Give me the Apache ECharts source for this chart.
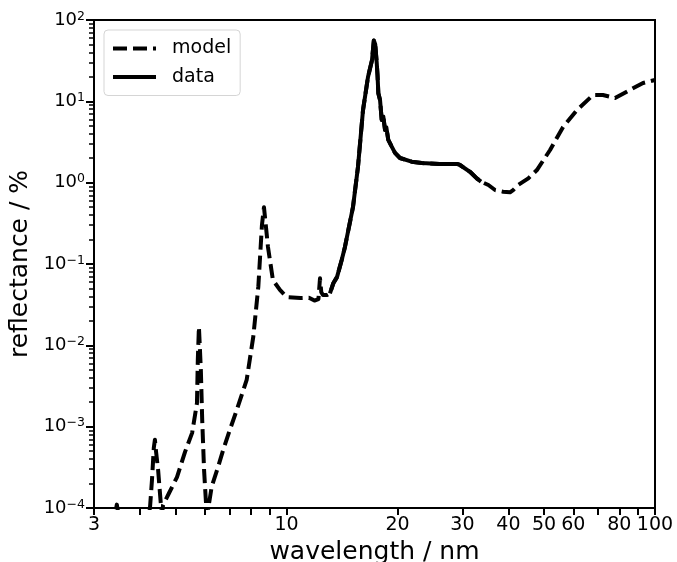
<!DOCTYPE html>
<html>
<head>
<meta charset="utf-8">
<script src="https://cdn.jsdelivr.net/npm/echarts@6/dist/echarts.min.js"></script>
<style>html,body{margin:0;padding:0;background:#fff}#c{width:677px;height:562px}</style>
</head>
<body>
<div id="c"></div>
<script>
// wavelength (nm) and reflectance (%) for the model curve
const modelX = [3.00,3.20,3.40,3.46,3.52,3.80,4.10,4.24,4.26,4.31,4.36,4.39,4.42,4.48,4.56,4.59,4.62,4.80,5.04,5.30,5.54,5.71,5.74,5.78,5.80,5.85,5.90,5.97,6.07,6.12,6.26,6.50,6.73,7.00,7.32,7.79,8.12,8.38,8.57,8.68,8.78,8.90,9.18,9.59,10.0,10.9,11.5,11.9,12.2,12.32,12.42,12.55,12.87,13.11,13.39,13.70,14.11,14.40,15.14,15.62,16.12,16.63,17.05,17.25,17.40,17.56,17.65,17.74,17.93,18.12,18.30,18.50,18.65,18.88,19.05,19.29,19.69,20.31,21.85,23.26,26.0,29.0,29.55,31.46,32.82,33.7,35.3,36.8,38.7,40.4,41.2,42.5,45.3,47.8,51.9,56.3,61.4,67.9,72.2,77.9,85.5,92.8,100];
const modelY = [2.0e-5,4.0e-5,7.0e-5,1.1e-4,7.0e-5,3.0e-5,4.0e-5,9.0e-5,1.05e-4,2.2e-4,5.5e-4,6.9e-4,5.0e-4,2.9e-4,1.06e-4,8.5e-5,1.09e-4,1.54e-4,2.4e-4,4.9e-4,8.4e-4,1.95e-3,6.6e-3,1.68e-2,1.2e-2,5.0e-3,1.21e-3,2.9e-4,8.0e-5,9.5e-5,1.83e-4,3.1e-4,5.2e-4,8.9e-4,1.6e-3,3.75e-3,1.28e-2,5.3e-2,0.30,0.50,0.30,0.162,0.0635,0.048,0.0393,0.0382,0.0385,0.0355,0.037,0.0667,0.045,0.0416,0.0416,0.0436,0.058,0.069,0.112,0.162,0.50,1.56,7.8,19.9,32,56,50,30,21,12.6,10.4,5.9,6.5,4.44,4.8,3.35,3.5,2.77,2.32,2.01,1.81,1.745,1.70,1.70,1.65,1.36,1.13,1.03,0.936,0.812,0.775,0.76,0.81,0.936,1.13,1.43,2.52,4.84,7.82,11.96,11.96,11.0,13.8,16.8,18.3];
// measured data curve
const dataX = [13.11,13.39,13.70,14.11,14.40,15.14,15.62,16.12,16.63,17.05,17.25,17.40,17.56,17.65,17.74,17.93,18.12,18.30,18.50,18.65,18.88,19.05,19.29,19.69,20.31,21.85,23.26,26.0,29.0,29.55,31.46,32.82,33.7];
const dataY = [0.0436,0.058,0.069,0.112,0.162,0.50,1.56,7.8,19.9,32,56,50,30,21,12.6,10.4,5.9,6.5,4.44,4.8,3.35,3.5,2.77,2.32,2.01,1.81,1.745,1.70,1.70,1.65,1.36,1.13,1.03];
// ticks
const xTicks = [3,4,5,6,7,8,9,10,20,30,40,50,60,70,80,90,100];
const xLabels = [3,10,20,30,40,50,60,80,100];
const yMajor = [1e-4,1e-3,1e-2,1e-1,1,10,100];
const yMinor = [];
for (let e = -4; e <= 1; e++) for (let m = 2; m <= 9; m++) yMinor.push(m * Math.pow(10, e));

const FF = 'DejaVu Sans';
const chart = echarts.init(document.getElementById('c'), null, {renderer: 'canvas'});
const toPairs = (xs, ys) => xs.map((x, i) => [x, ys[i]]);
chart.setOption({
  animation: false,
  backgroundColor: '#fff',
  grid: {left: 94, right: 22, top: 20, bottom: 54, show: true, borderColor: '#000', borderWidth: 2, containLabel: false, outerBoundsMode: 'none'},
  legend: {
    left: 104, top: 30, orient: 'vertical',
    backgroundColor: '#fff', borderColor: '#d5d5d5', borderWidth: 1, borderRadius: 4,
    padding: [9, 9, 9, 7], itemWidth: 43, itemHeight: 14, itemGap: 9.5,
    itemStyle: {opacity: 0},
    lineStyle: {width: 4},
    textStyle: {fontSize: 19, color: '#000', fontFamily: FF, padding: [0, 0, 0, 11], lineHeight: 19},
    data: ['model', 'data']
  },
  xAxis: {
    type: 'log', logBase: 10, min: 3, max: 100,
    axisLine: {show: true, lineStyle: {color: '#000', width: 2}},
    axisTick: {show: true, length: 7, customValues: xTicks, lineStyle: {color: '#000', width: 2}},
    axisLabel: {customValues: xLabels, formatter: v => String(Math.round(v)), fontSize: 19, color: '#000', fontFamily: FF, margin: 8},
    splitLine: {show: false},
    name: 'wavelength / nm', nameLocation: 'middle', nameGap: 23,
    nameTextStyle: {fontSize: 25, color: '#000', fontFamily: FF}
  },
  yAxis: [{
    type: 'log', logBase: 10, min: 1e-4, max: 100, position: 'left',
    axisLine: {show: true, lineStyle: {color: '#000', width: 2}},
    axisTick: {show: true, length: 8, customValues: yMajor, lineStyle: {color: '#000', width: 2}},
    axisLabel: {
      customValues: yMajor, margin: 9,
      formatter: v => { const e = Math.round(Math.log10(v)); return '{b|10}{s|' + (e < 0 ? '\u2212' + (-e) : e) + '}'; },
      rich: {
        b: {fontSize: 18, color: '#000', fontFamily: FF},
        s: {fontSize: 12.5, color: '#000', fontFamily: FF, padding: [0, 0, 7, 0]}
      }
    },
    splitLine: {show: false},
    name: 'reflectance / %', nameLocation: 'middle', nameGap: 58,
    nameTextStyle: {fontSize: 25, color: '#000', fontFamily: FF}
  }, {
    type: 'log', logBase: 10, min: 1e-4, max: 100, position: 'left', offset: 0,
    axisLine: {show: false},
    axisTick: {show: true, length: 5, customValues: yMinor, lineStyle: {color: '#000', width: 1.5}},
    axisLabel: {show: false},
    splitLine: {show: false}
  }],
  series: [{
    name: 'model', type: 'line', data: toPairs(modelX, modelY),
    symbol: 'none', showSymbol: false, clip: true, z: 2,
    lineStyle: {color: '#000', width: 4, type: [14, 6], cap: 'butt', join: 'round'},
    itemStyle: {color: '#000'}
  }, {
    name: 'data', type: 'line', data: toPairs(dataX, dataY),
    symbol: 'none', showSymbol: false, clip: true, z: 3,
    lineStyle: {color: '#000', width: 4, type: 'solid', cap: 'butt', join: 'round'},
    itemStyle: {color: '#000'}
  }]
});
</script>
</body>
</html>
